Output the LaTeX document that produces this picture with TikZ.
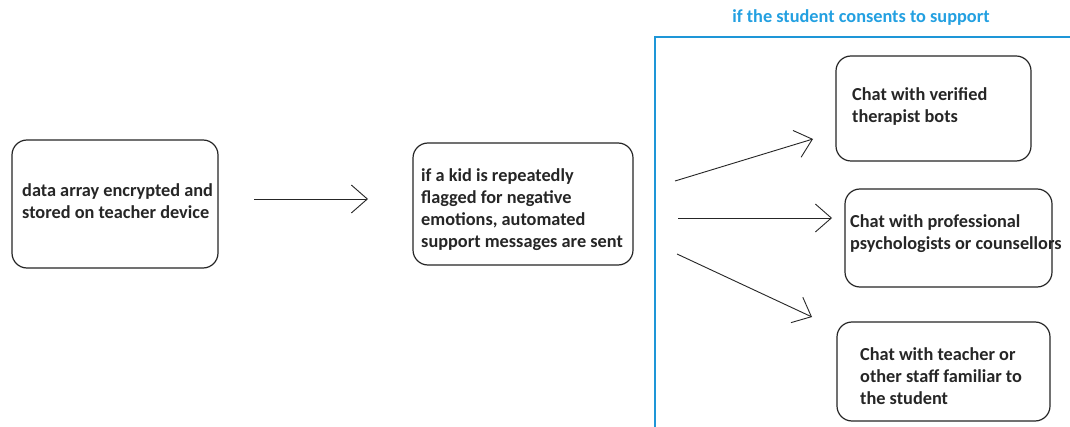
\documentclass[tikz,border=0pt]{standalone}
\usepackage{fontspec}
\setmainfont{Carlito}
\usetikzlibrary{arrows.meta}
\definecolor{txtc}{RGB}{38,38,38}
\definecolor{framec}{RGB}{30,150,215}
\definecolor{titlec}{RGB}{35,160,225}
\begin{document}
\begin{tikzpicture}[x=1pt,y=-1pt,
  box/.style={draw=txtc, line width=1.2pt, rounded corners=15pt, inner sep=0pt},
  txt/.style={anchor=base west, align=left, inner sep=0pt, text=txtc,
    font={\fontsize{18.3}{22}\selectfont\bfseries}},
  arr/.style={draw=black!85, line width=0.9pt,
    -{Straight Barb[length=16pt,width=28pt,line width=0.9pt]}},
  frame/.style={draw=framec, line width=1.4pt},
  ttl/.style={text=titlec, inner sep=0pt, font={\fontsize{18.3}{22}\selectfont\bfseries}}]
\useasboundingbox (0,0) rectangle (1070,427);
\fill[white] (0,0) rectangle (1070,427);
% boxes
\node[box, minimum width=206pt, minimum height=128pt] (b1) at (115,204) {};
\node[box, minimum width=220pt, minimum height=122pt] (b2) at (523,204) {};
\node[box, minimum width=195pt, minimum height=105pt] (b3) at (933.5,108.5) {};
\node[box, minimum width=207pt, minimum height=98pt] (b4) at (948.5,238) {};
\node[box, minimum width=213pt, minimum height=99pt] (b5) at (943.5,371.5) {};
% texts (anchored at the baseline of the last line)
\node[txt] (t1) at (22,219) {data array encrypted and\\stored on teacher device};
\node[txt] (t2) at (421,248) {if a kid is repeatedly\\flagged for negative\\emotions, automated\\support messages are sent};
\node[txt] (t3) at (852,123) {Chat with verified\\therapist bots};
\node[txt] (t4) at (850,250) {Chat with professional\\psychologists or counsellors};
\node[txt] (t5) at (860,404) {Chat with teacher or\\other staff familiar to\\the student};
% frame and title
\coordinate (fbl) at (655,427);
\coordinate (ftl) at (655,37);
\coordinate (ftr) at (1070,37);
\draw[frame] (fbl) -- (ftl) -- (ftr);
\node[ttl] (title) at (861,18) {if the student consents to support};
% arrows
\coordinate (a1s) at (254,199);
\coordinate (a1e) at (368,199);
\coordinate (a2s) at (675,181);
\coordinate (a2e) at (813,139);
\coordinate (a3s) at (678,218);
\coordinate (a3e) at (832,218);
\coordinate (a4s) at (677,254);
\coordinate (a4e) at (812,317);
\draw[arr] (a1s) -- (a1e);
\draw[arr] (a2s) -- (a2e);
\draw[arr] (a3s) -- (a3e);
\draw[arr] (a4s) -- (a4e);
\end{tikzpicture}
\end{document}
